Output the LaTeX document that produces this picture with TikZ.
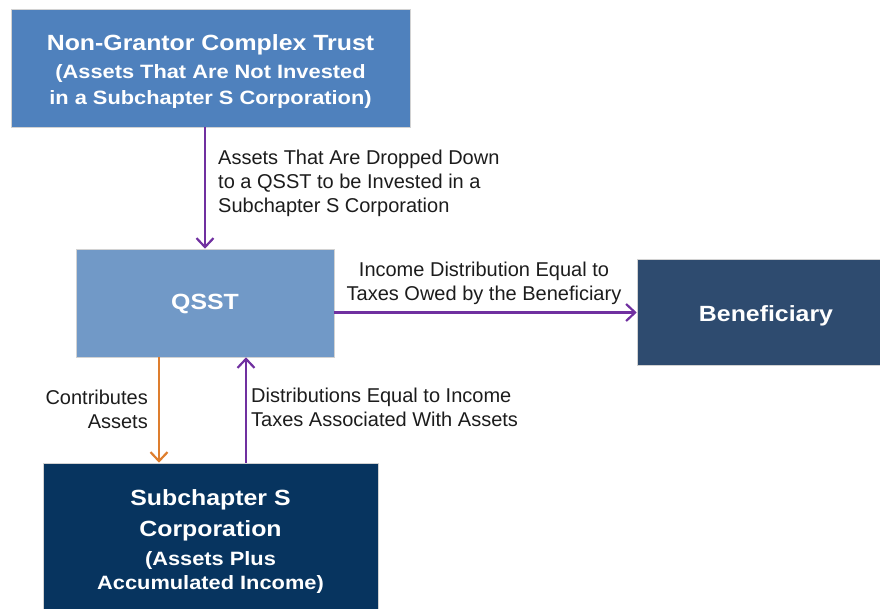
\documentclass[tikz,border=0pt]{standalone}
\usepackage{fontspec}
\setmainfont{Liberation Sans}
\newfontfamily\boxfont{Liberation Sans Bold}[FakeStretch=1.13]
\usetikzlibrary{arrows.meta}
\definecolor{topblue}{HTML}{4F81BD}
\definecolor{qsstblue}{HTML}{7199C7}
\definecolor{benblue}{HTML}{2E4B6F}
\definecolor{corpblue}{HTML}{07345F}
\definecolor{arrpurple}{HTML}{7030A0}
\definecolor{arrorange}{HTML}{DE7E2E}
\definecolor{labelgray}{HTML}{1C1C1C}
\tikzset{
  boxnode/.style={rectangle, draw=gray!35, line width=0.6pt, inner sep=0pt},
  boxtext/.style={text=white, align=center, inner sep=0pt,
    font=\boxfont\fontsize{19.3}{24}\selectfont},
  flow/.style={line width=2.2pt, -{Straight Barb[length=9pt,width=17pt]}},
  lbl/.style={text=labelgray, inner sep=0pt, font=\fontsize{20}{24}\selectfont},
}
\newcommand{\bigline}[1]{{\fontsize{22}{24}\selectfont #1}}
\begin{document}
\begin{tikzpicture}[x=1pt,y=-1pt]
\useasboundingbox (0,0) rectangle (880,608);
\node[boxnode, fill=topblue, minimum width=399pt, minimum height=118pt] (trust) at (210.5,68) {};
\node[boxtext] (trustt) at (210.5,72)
  {\bigline{Non-Grantor Complex Trust}\\[4pt](Assets That Are Not Invested\\[2pt]in a Subchapter S Corporation)};
\node[boxnode, fill=qsstblue, minimum width=258pt, minimum height=108pt] (qsst) at (205,303) {};
\node[boxtext] (qsstt) at (205,303.5) {\bigline{QSST}};
\node[boxnode, fill=benblue, minimum width=258pt, minimum height=106pt] (ben) at (766,312.5) {};
\node[boxtext] (bent) at (766,315.5) {\bigline{Beneficiary}};
\node[boxnode, fill=corpblue, minimum width=335pt, minimum height=152pt] (corp) at (210.5,539) {};
\node[boxtext] (corpt) at (210.5,541.5)
  {\bigline{Subchapter S}\\[7pt]\bigline{Corporation}\\[5pt](Assets Plus\\Accumulated Income)};
\coordinate (tq) at (qsst.north);
\coordinate (orx) at (159,0);
\coordinate (pux) at (246,0);
\draw[flow, arrpurple] (trust.south -| tq) -- (tq);
\draw[flow, arrpurple] (qsst.east |- ben.west) -- (ben.west);
\draw[flow, arrorange] (qsst.south -| orx) -- (corp.north -| orx);
\draw[flow, arrpurple] (corp.north -| pux) -- (qsst.south -| pux);
\node[lbl, anchor=west, align=left] (l1) at (218,183)
  {Assets That Are Dropped Down\\to a QSST to be Invested in a\\Subchapter S Corporation};
\node[lbl, align=center] (l2) at (484,283)
  {Income Distribution Equal to\\Taxes Owed by the Beneficiary};
\node[lbl, anchor=east, align=right] (l3) at (148,409)
  {Contributes\\Assets};
\node[lbl, anchor=west, align=left] (l4) at (251,407)
  {Distributions Equal to Income\\Taxes Associated With Assets};
\end{tikzpicture}
\end{document}
